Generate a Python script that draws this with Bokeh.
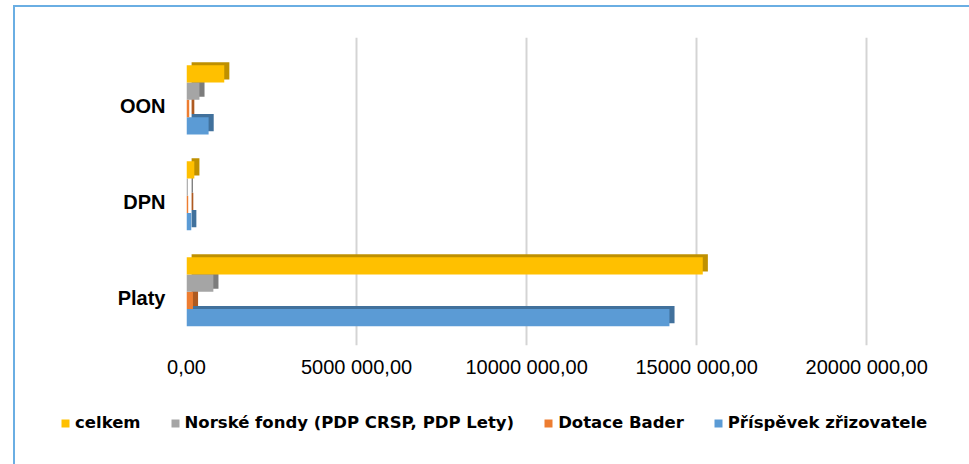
from bokeh.plotting import figure
from bokeh.layouts import column, row
from bokeh.models import (ColumnDataSource, Range1d, FixedTicker, Legend, LegendItem)
from bokeh.embed import file_html
from bokeh.resources import INLINE

# ---- data ----
categories = ["Platy", "DPN", "OON"]
series_names = ["Příspěvek zřizovatele", "Dotace Bader",
                "Norské fondy (PDP CRSP, PDP Lety)", "celkem"]
prispevek = [14200000, 140000, 650000]
dotace = [190000, 50000, 80000]
norske = [790000, 40000, 380000]
celkem = [15180000, 230000, 1110000]
x_ticks = [0, 5000000, 10000000, 15000000, 20000000]
x_tick_labels = ["0,00", "5000 000,00", "10000 000,00", "15000 000,00", "20000 000,00"]

colors = ["#5B9BD5", "#ED7D31", "#A5A5A5", "#FFC000"]
side_colors = ["#41719C", "#AE5A21", "#7C7C7C", "#BF9000"]

series_values = [prispevek, dotace, norske, celkem]

p = figure(width=969, height=400, output_backend="svg", toolbar_location=None,
           x_range=Range1d(0, 20200000), y_range=Range1d(0, 3.21),
           min_border_left=186, min_border_right=96, min_border_top=37,
           min_border_bottom=55)
p.outline_line_color = None
p.background_fill_color = "white"
p.border_fill_alpha = 0

offsets = [-0.27, -0.09, 0.09, 0.27]
shift = 0.06
bar_h = 0.18
dx = 150000
dy = 0.032

sources = []
for k, (name, vals) in enumerate(zip(series_names, series_values)):
    ys = [i + 0.5 + shift + offsets[k] for i in range(len(categories))]
    src = ColumnDataSource(dict(
        y=ys, right=vals,
        y_back=[y + dy for y in ys],
        left_back=[dx] * len(vals),
        right_back=[v + dx for v in vals],
    ))
    sources.append(src)
    p.hbar(y="y_back", left="left_back", right="right_back", height=bar_h, source=src,
           fill_color=side_colors[k], line_color=None)
    p.hbar(y="y", left=0, right="right", height=bar_h, source=src,
           fill_color=colors[k], line_color=None)

# axes
p.xaxis.ticker = FixedTicker(ticks=x_ticks)
p.xaxis.major_label_overrides = {t: l for t, l in zip(x_ticks, x_tick_labels)}
p.xaxis.major_label_text_font = "Liberation Sans"
p.xaxis.major_label_text_font_size = "20px"
p.xaxis.major_label_text_color = "#000000"
p.xaxis.major_label_standoff = 10
p.xaxis.major_tick_in = 0
p.xaxis.major_tick_out = 0
p.xaxis.minor_tick_line_color = None
p.xaxis.axis_line_color = None

cat_ticks = [i + 0.5 for i in range(len(categories))]
p.yaxis.ticker = FixedTicker(ticks=cat_ticks)
p.yaxis.major_label_overrides = {t: c for t, c in zip(cat_ticks, categories)}
p.yaxis.major_label_text_font = "Liberation Sans"
p.yaxis.major_label_text_font_style = "bold"
p.yaxis.major_label_text_font_size = "20px"
p.yaxis.major_label_text_color = "#000000"
p.yaxis.major_label_standoff = 21
p.yaxis.major_tick_in = 0
p.yaxis.major_tick_out = 0
p.yaxis.minor_tick_line_color = None
p.yaxis.axis_line_color = None

p.xgrid.grid_line_color = "#D4D4D4"
p.xgrid.grid_line_width = 2
p.ygrid.grid_line_color = None

# legend strip (its own figure; the data lies outside its visible range)
lg = figure(width=969, height=64, output_backend="svg", toolbar_location=None,
            x_range=Range1d(-2, -1), y_range=Range1d(-2, -1),
            x_axis_location=None, y_axis_location=None,
            min_border=0, min_border_left=0, min_border_right=0,
            min_border_top=0, min_border_bottom=0)
lg.grid.visible = False
lg.outline_line_color = None
lg.background_fill_alpha = 0
lg.border_fill_alpha = 0

legend_renderers = []
for k in range(4):
    legend_renderers.append(lg.hbar(y="y", left=0, right="right", height=bar_h,
                                    source=sources[k], fill_color=colors[k], line_color=None))

items = [LegendItem(label=series_names[k], renderers=[legend_renderers[k]]) for k in [3, 2, 1, 0]]
legend = Legend(items=items, orientation="horizontal", location=(60, 32))
legend.label_text_font = "DejaVu Sans"
legend.label_text_font_style = "bold"
legend.label_text_font_size = "16.5px"
legend.label_text_color = "#000000"
legend.glyph_width = 10
legend.glyph_height = 10
legend.label_standoff = 5
legend.spacing = 29
legend.padding = 0
legend.margin = 0
legend.border_line_color = None
legend.background_fill_alpha = 0
lg.add_layout(legend, "center")

layout = column(p, row(lg), spacing=0)
layout.styles = {
    "background-color": "white",
    "background-image": "linear-gradient(#6AAEE3, #6AAEE3), linear-gradient(#6AAEE3, #6AAEE3)",
    "background-position": "13px 5px, 13px 5px",
    "background-size": "2px 100%, 100% 2px",
    "background-repeat": "no-repeat, no-repeat",
}

open("out.html", "w").write(file_html(layout, INLINE))
